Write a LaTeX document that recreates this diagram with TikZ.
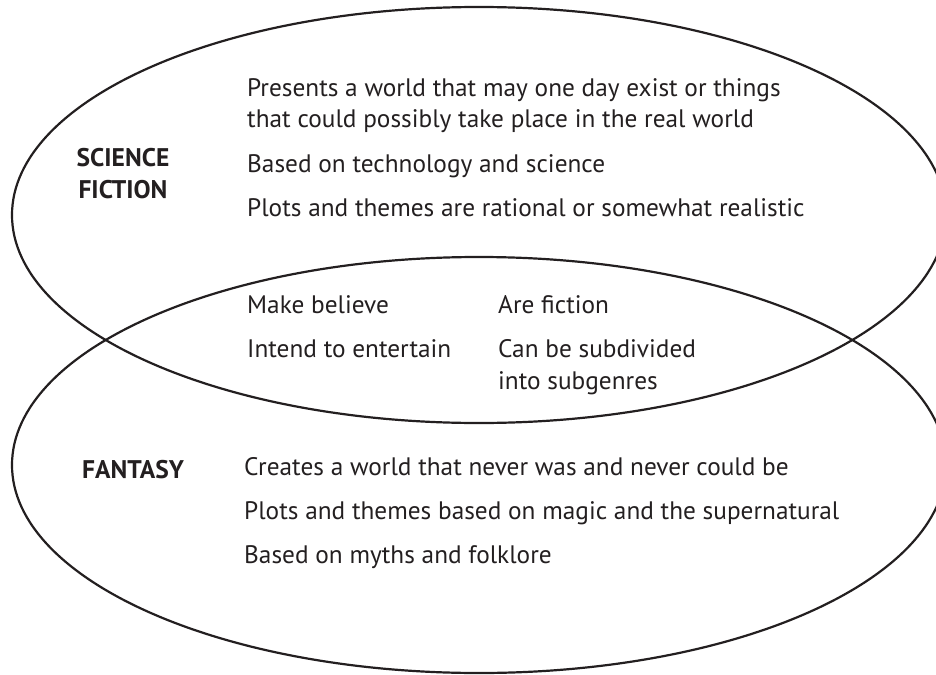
\documentclass[tikz,border=0pt]{standalone}
\usepackage{fontspec}
\setmainfont{PT Sans}
\definecolor{inkgray}{HTML}{231F20}

\begin{document}
\begin{tikzpicture}[x=1pt, y=-1pt,
    item/.style={anchor=base west, inner sep=0pt, text=inkgray,
        font=\fontsize{25.3}{30}\selectfont},
    genre/.style={anchor=base, inner sep=0pt, text=inkgray, align=center,
        font=\fontsize{25.5}{32}\selectfont\bfseries}]

    % Fix the page size
    \useasboundingbox (0,0) rectangle (936,674);

    % Define the centres of the two sets
    \coordinate (SF) at (479,215);
    \coordinate (FA) at (479,465);

    % Draw the two sets
    \draw[inkgray, line width=2.2pt] (SF) ellipse [x radius=467, y radius=208];
    \draw[inkgray, line width=2.2pt] (FA) ellipse [x radius=467, y radius=208];

    % Science fiction only (base anchor sits on the last line)
    \node[genre] (sflabel) at (123,198) {SCIENCE\\FICTION};
    \node[item] (sfa) at (247,97) {Presents a world that may one day exist or things};
    \node[item] (sfb) at (247,128) {that could possibly take place in the real world};
    \node[item] (sfc) at (247,172) {Based on technology and science};
    \node[item] (sfd) at (247,216) {Plots and themes are rational or somewhat realistic};

    % Shared by both
    \node[item] (ba) at (247,313) {Make believe};
    \node[item] (bb) at (498,313) {Are fiction};
    \node[item] (bc) at (247,357) {Intend to entertain};
    \node[item] (bd) at (498,357) {Can be subdivided};
    \node[item] (be) at (498,389) {into subgenres};

    % Fantasy only
    \node[genre] (falabel) at (133,478) {FANTASY};
    \node[item] (faa) at (244,475) {Creates a world that never was and never could be};
    \node[item] (fab) at (244,519) {Plots and themes based on magic and the supernatural};
    \node[item] (fac) at (244,563) {Based on myths and folklore};

\end{tikzpicture}
\end{document}
